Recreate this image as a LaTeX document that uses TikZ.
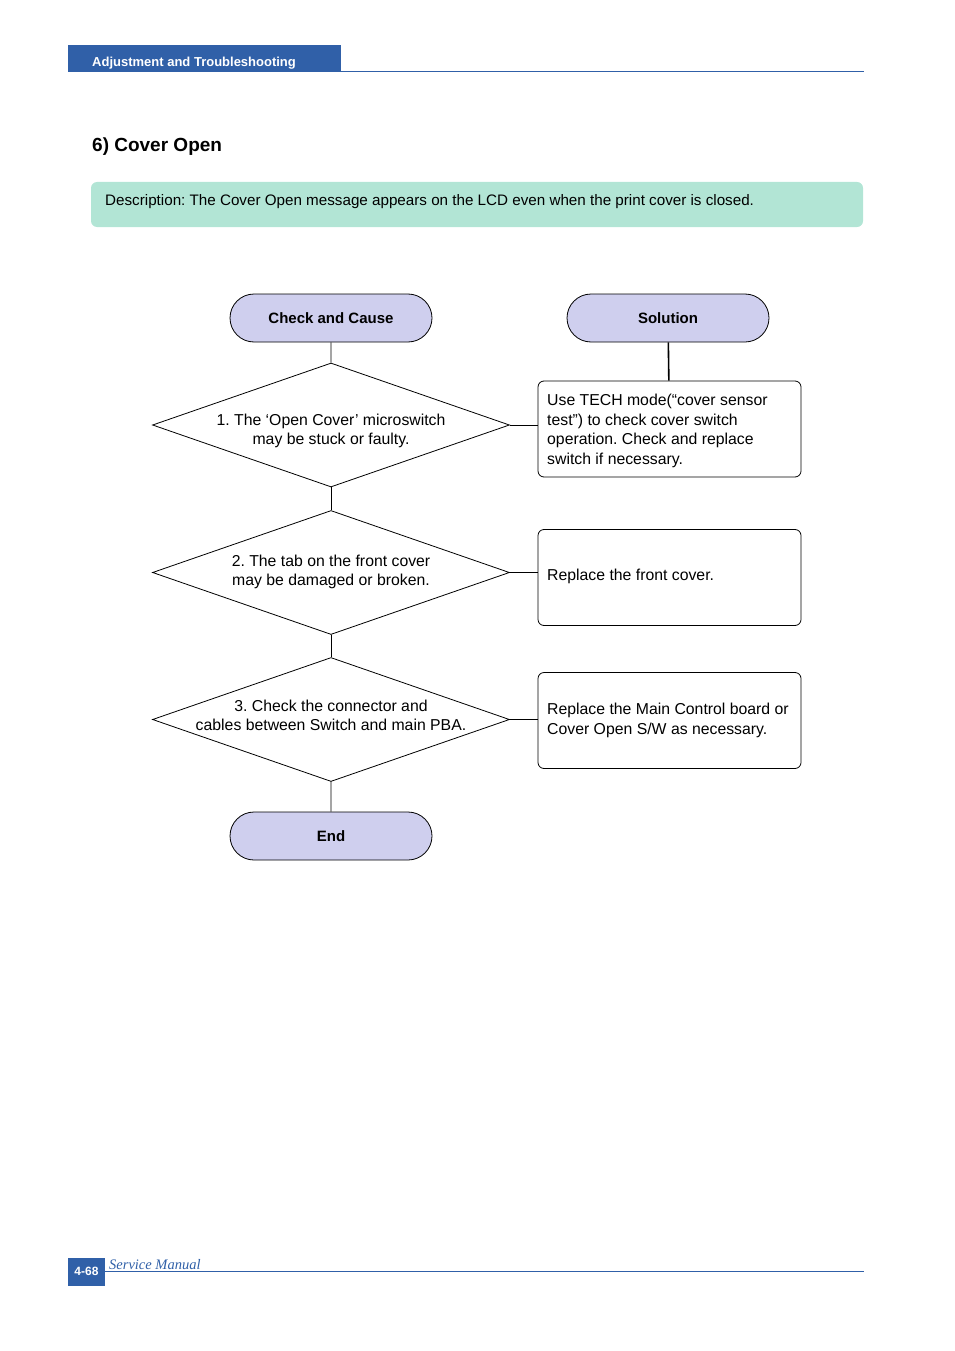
\documentclass[tikz,border=0pt]{standalone}
\usepackage{fontspec}
\setmainfont{Liberation Sans}
\newfontfamily\serifit{Liberation Serif}
\usetikzlibrary{shapes.geometric,shapes.misc}
\definecolor{hdrblue}{HTML}{3060A8}
\definecolor{descgreen}{HTML}{B2E5D5}
\definecolor{termfill}{HTML}{CFCFEE}
\frenchspacing
\begin{document}
\begin{tikzpicture}[x=1pt,y=-1pt,
  term/.style={draw=black,line width=0.8pt,fill=termfill,rounded rectangle,minimum width=202pt,minimum height=48pt,inner sep=0pt,font=\fontsize{15}{18}\selectfont\bfseries},
  dia/.style={draw=black,line width=0.8pt,diamond,minimum width=357pt,minimum height=124pt,inner sep=0pt,aspect=2.88},
  diatext/.style={align=center,inner sep=0pt,font=\fontsize{15.8}{19}\selectfont},
  solbox/.style={draw=black,line width=0.8pt,rounded corners=6pt,minimum width=263pt,minimum height=96pt,inner sep=0pt},
  soltext/.style={anchor=west,align=left,inner sep=0pt,font=\fontsize{15.8}{19.4}\selectfont},
  conn/.style={draw=black,line width=0.8pt}]
\useasboundingbox (0,0) rectangle (954,1351);
% header
\fill[hdrblue] (68,45) rectangle (341,72);
\draw[hdrblue,line width=1pt] (341,72) -- (864,72);
\node[anchor=west,inner sep=0pt,text=white,font=\fontsize{13}{15}\selectfont\bfseries] (hdr) at (92,63.5) {Adjustment and Troubleshooting};
% footer
\fill[hdrblue] (68,1258) rectangle (105,1286);
\draw[hdrblue,line width=1pt] (105,1271) -- (864,1271);
\node[text=white,font=\fontsize{12}{14}\selectfont\bfseries] (pg) at (86.5,1271) {4-68};
\node[anchor=west,inner sep=0pt,text=hdrblue,font=\serifit\fontsize{14.5}{16}\selectfont\itshape] (sm) at (109,1265) {Service Manual};
% title
\node[anchor=west,inner sep=0pt,font=\fontsize{19}{22}\selectfont\bfseries] (title) at (92,147) {6) Cover Open};
% description
\fill[descgreen,rounded corners=6pt] (91,182) rectangle (863,227);
\node[anchor=west,inner sep=0pt,font=\fontsize{15.2}{18}\selectfont] (desc) at (105,202) {Description: The Cover Open message appears on the LCD even when the print cover is closed.};
% flow
\node[term] (cc) at (331,318) {Check and Cause};
\node[term] (sol) at (668,318) {Solution};
\node[dia] (d1) at (331,425) {};
\node[diatext] (d1t) at (331,430.5) {1. The `Open Cover' microswitch\\may be stuck or faulty.};
\node[dia] (d2) at (331,572.5) {};
\node[diatext] (d2t) at (331,572) {2. The tab on the front cover\\may be damaged or broken.};
\node[dia] (d3) at (331,719.5) {};
\node[diatext] (d3t) at (331,715.5) {3. Check the connector and\\cables between Switch and main PBA.};
\node[term] (end) at (331,836) {End};
\node[solbox] (b1) at (669.5,429) {};
\node[soltext] (t1) at (547,431) {Use TECH mode(``cover sensor\\test'') to check cover switch\\operation. Check and replace\\switch if necessary.};
\node[solbox] (b2) at (669.5,577.5) {};
\node[soltext] (t2) at (547,576.5) {Replace the front cover.};
\node[solbox] (b3) at (669.5,720.5) {};
\node[soltext] (t3) at (547,720.5) {Replace the Main Control board or\\Cover Open S/W as necessary.};
\draw[conn] (cc) -- (d1);
\draw[conn] (d1) -- (d2);
\draw[conn] (d2) -- (d3);
\draw[conn] (d3) -- (end);
\draw[conn,line width=1.6pt] (sol) -- (b1);
\draw[conn] (d1.east) -- (b1.west|-d1.east);
\draw[conn] (d2.east) -- (b2.west|-d2.east);
\draw[conn] (d3.east) -- (b3.west|-d3.east);
\end{tikzpicture}
\end{document}
